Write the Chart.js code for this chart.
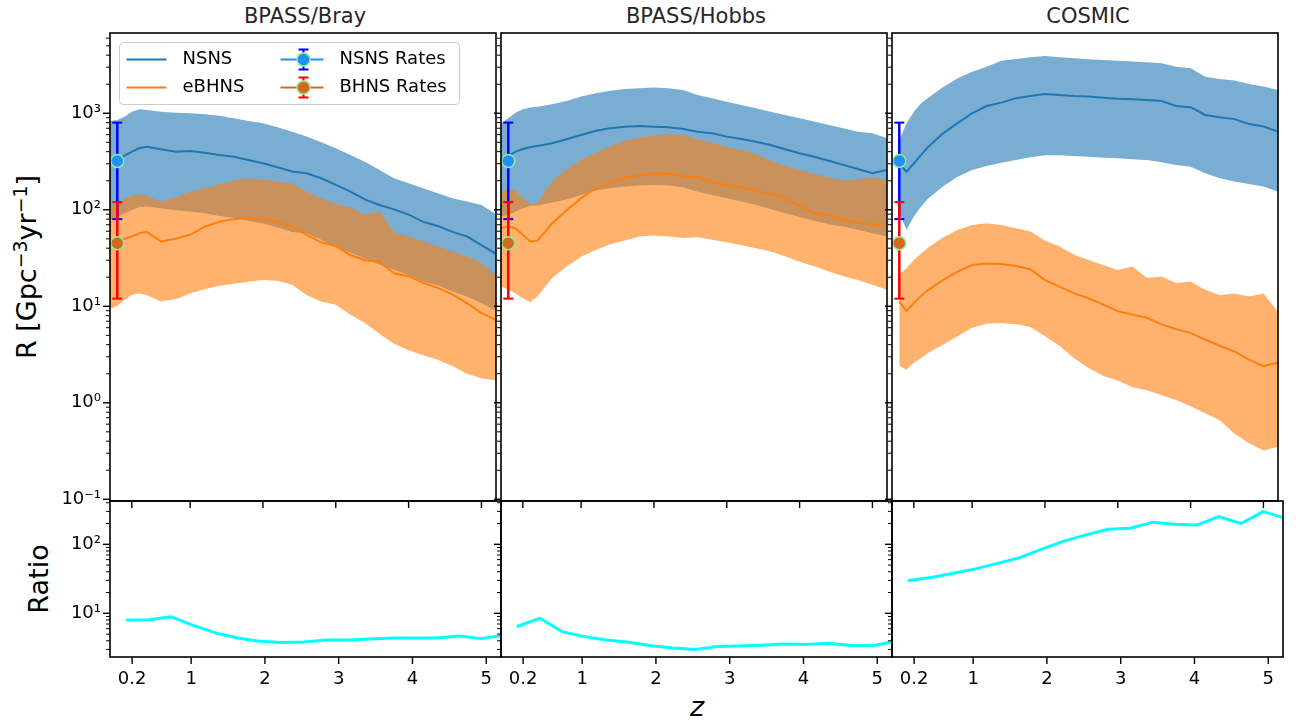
<!DOCTYPE html>
<html><head><meta charset="utf-8">
<script src="https://cdn.jsdelivr.net/npm/chart.js@4.4.0/dist/chart.umd.min.js"></script>
<style>
html,body{margin:0;padding:0;background:#fff}
#fig{position:relative;width:1296px;height:724px;overflow:hidden;background:#fff;font-family:'DejaVu Sans',sans-serif;color:#000}
canvas{position:absolute}
.ttl{position:absolute;top:2px;font-size:21px;line-height:28px;color:#262626;transform:translateX(-50%);white-space:nowrap}
.lab{position:absolute;font-size:27px;line-height:32px;white-space:nowrap;transform:translate(-50%,-50%) rotate(-90deg)}
.lab sup{font-size:70%;line-height:0;vertical-align:0.5em}
.zlab{position:absolute;font-size:27px;line-height:32px;font-style:italic;transform:translate(-50%,-50%)}
</style></head>
<body><div id="fig">
<div class="ttl" style="left:305px">BPASS/Bray</div>
<div class="ttl" style="left:696px">BPASS/Hobbs</div>
<div class="ttl" style="left:1088px">COSMIC</div>
<div class="lab" style="left:27px;top:267px">R [Gpc<sup>−3</sup>yr<sup>−1</sup>]</div>
<div class="lab" style="left:39px;top:579px">Ratio</div>
<div class="zlab" style="left:697px;top:707px">z</div>
</div>
<script>
// ================= DATA =================
const zBPASS  = [-0.1,0,0.1,0.2,0.3,0.4,0.6,0.8,1.0,1.2,1.4,1.6,1.8,2.0,2.2,2.4,2.6,2.8,3.0,3.2,3.4,3.6,3.8,4.0,4.2,4.4,4.6,4.8,5.0,5.2];
const zCOSMIC = [0,0.1,0.2,0.3,0.4,0.6,0.8,1.0,1.2,1.4,1.6,1.8,2.0,2.2,2.4,2.6,2.8,3.0,3.2,3.4,3.6,3.8,4.0,4.2,4.4,4.6,4.8,5.0,5.2];

// BPASS/Bray
const brayNsnsHi  = [830,850,920,1040,1100,1080,1040,1015,1000,975,940,890,830,790,715,645,573,500,434,370,315,258,212,188,167,148,132,122,112,90];
const brayNsnsMed = [300,330,364,400,434,450,423,400,406,390,370,355,328,303,276,249,239,212,181,154,128,112,101,89,75,68,59,53,43,35];
const brayNsnsLo  = [78,85,92,99,106,108,104,99,96,92,86,82,77,72,66,59,57,49,41,36,31,27,24,21,18,16.5,14.3,12.6,10.8,9];
const brayBhnsHi  = [110,117,129,140,146,140,122,135,154,167,184,200,212,204,196,188,154,132,115,106,89,96,59,53,47,42,37,33,28,21];
const brayBhnsMed = [45,47,50,53,57,59,47,50,55,67,75,80,83,80,75,67,55,46,42,34,30,29,22,20.5,17.5,15.5,13.3,10.8,8.5,7.2];
const brayBhnsLo  = [9.3,10.1,11.6,13.1,13.6,13.1,11.2,11.8,13.6,15,16.3,17.1,18,18.7,18.4,16.7,13.1,11.2,10.4,8.2,6.7,5.2,4.1,3.5,3.1,2.8,2.4,2.0,1.8,1.7];

// BPASS/Hobbs
const hobbsNsnsHi  = [790,890,1015,1100,1145,1170,1240,1340,1490,1610,1715,1785,1815,1845,1815,1745,1550,1430,1320,1220,1125,1040,960,890,820,756,700,645,620,550];
const hobbsNsnsMed = [342,361,400,427,444,458,489,538,596,660,700,727,739,727,716,688,645,620,573,542,508,470,424,385,355,322,292,265,239,258];
const hobbsNsnsLo  = [85,89,96,104,110,110,119,128,142,158,167,174,178,181,178,171,154,142,132,122,112,102,92,84,77,71,67,62,57,53];
const hobbsBhnsHi  = [148,164,158,132,115,119,196,263,328,390,458,520,563,586,606,596,538,496,450,417,378,323,285,258,235,217,200,207,217,204];
const hobbsBhnsMed = [64,68,64,55,47,48,72,99,132,167,188,217,226,239,235,224,217,191,181,170,158,146,132,110,92,89,78,74,70,72];
const hobbsBhnsLo  = [16.1,14.8,13.6,12.1,11,12.6,19.5,25.8,32.7,38.3,44,48,53,54,53,51,52,49,46,43,40,37,33,29,26,23,20.5,18.7,16.7,14.8];

// COSMIC
const cosmicNsnsHi  = [528,788,1040,1270,1450,1860,2300,2700,3040,3510,3650,3800,3930,3800,3710,3620,3560,3510,3430,3370,3290,3040,2930,2390,2270,2180,2010,1890,1745];
const cosmicNsnsMed = [300,248,303,370,451,620,790,1000,1190,1290,1430,1510,1585,1550,1510,1490,1450,1415,1400,1375,1340,1190,1155,960,910,870,775,730,645];
const cosmicNsnsLo  = [92,62,85,108,132,174,220,258,285,308,328,350,367,367,361,355,347,341,333,328,311,291,280,239,212,196,185,174,154];
const cosmicBhnsHi  = [21.2,24.8,30.2,35.3,40.7,51.5,61.7,69.6,72.3,69.6,64.4,59.5,48,41.7,34.2,30.2,26.8,23.8,25.8,19.6,20.4,17.4,18.1,14.8,13.1,13.6,12.6,13.6,8.8];
const cosmicBhnsMed = [11.2,8.9,10.8,12.8,14.8,18.7,22.9,26.8,27.8,27.4,26.1,24.2,18.7,16,13.6,12.1,10.4,8.9,8.2,7.6,6.5,5.8,5.3,4.5,3.9,3.4,2.8,2.4,2.6];
const cosmicBhnsLo  = [2.4,2.2,2.6,2.9,3.3,4.0,4.9,6.0,6.6,6.7,6.5,6.1,4.9,3.9,2.9,2.3,1.9,1.7,1.45,1.35,1.2,1.07,0.92,0.78,0.66,0.48,0.38,0.32,0.35];

// Ratio panels
const zRatio      = [0.13,0.43,0.73,1.03,1.33,1.63,1.93,2.23,2.53,2.83,3.13,3.43,3.73,4.03,4.33,4.63,4.93,5.23];
const ratioBray   = [8.0,8.1,8.9,6.7,5.2,4.4,3.95,3.78,3.85,4.1,4.1,4.25,4.4,4.4,4.4,4.7,4.3,4.8];
const ratioHobbs  = [6.5,8.5,5.4,4.6,4.1,3.8,3.4,3.15,3.0,3.3,3.35,3.45,3.6,3.55,3.7,3.45,3.4,3.9];
const ratioCosmic = [30,33,38,44,53,64,85,111,137,165,171,208,195,190,252,200,297,239];

// Observed rates (NSNS, BHNS)
const rateNames = ['NSNS Rates','BHNS Rates'];
const rateZ   = [0, 0];
const rateVal = [320, 45];
const rateLo  = [80, 12];
const rateHi  = [800, 120];

// Series names / ticks
const seriesNames = ['NSNS','eBHNS'];
const panelNames = ['BPASS/Bray','BPASS/Hobbs','COSMIC'];
const xTickValues = [0.2,1,2,3,4,5];
const xTickLabels = ['0.2','1','2','3','4','5'];
const rTickValues = [0.1,1,10,100,1000];
const rTickLabels = ['10⁻¹','10⁰','10¹','10²','10³'];
const ratioTickValues = [10,100];
const ratioTickLabels = ['10¹','10²'];

// ================= STYLE / LAYOUT =================
const C_NSNS = '#1f77b4', C_BHNS = '#ff7f0e';
const F_NSNS = 'rgba(31,119,180,0.6)', F_BHNS = 'rgba(255,127,14,0.6)';
const seriesColors = [C_NSNS, C_BHNS];
const rateColors = ['#1e90ff', '#d2691e'];
const rateBarColors = ['#0000ff', '#ff0000'];
const PANELS = [[110,501],[501,892],[892,1283]];
const TOP_Y = [33,501], BOT_Y = [501,657];

Chart.defaults.font.family = "'DejaVu Sans', sans-serif";
Chart.defaults.color = '#000';

function seg(ctx, x1, y1, x2, y2) { ctx.beginPath(); ctx.moveTo(x1, y1); ctx.lineTo(x2, y2); ctx.stroke(); }

const axesPlugin = {
  id: 'axesPlugin',
  afterDraw(chart) {
    const {ctx, chartArea: a} = chart;
    const xs = chart.scales.x, ys = chart.scales.y;
    ctx.save();
    ctx.strokeStyle = '#000';
    const lo = Math.floor(Math.log10(ys.min)), hi = Math.ceil(Math.log10(ys.max));
    for (let d = lo; d <= hi; d++) {
      for (let m = 1; m < 10; m++) {
        const v = m * Math.pow(10, d);
        if (v < ys.min || v > ys.max) continue;
        const py = ys.getPixelForValue(v);
        const major = m === 1;
        ctx.lineWidth = major ? 1.4 : 1;
        seg(ctx, a.left - (major ? 7 : 4), py, a.left, py);
      }
    }
    ctx.lineWidth = 1.4;
    for (const v of xTickValues) {
      const px = xs.getPixelForValue(v);
      seg(ctx, px, a.bottom, px, a.bottom + 7);
    }
    ctx.lineWidth = 1.6;
    ctx.strokeRect(a.left, a.top, a.right - a.left, a.bottom - a.top);
    ctx.restore();
  }
};

const RATE_IDX = 6;
const ratesPlugin = {
  id: 'ratesPlugin',
  beforeDatasetDraw(chart, args) {
    if (args.index !== RATE_IDX) return;
    const ctx = chart.ctx, xs = chart.scales.x, ys = chart.scales.y;
    ctx.save();
    rateVal.forEach((v, k) => {
      const px = xs.getPixelForValue(rateZ[k]);
      const y1 = ys.getPixelForValue(rateLo[k]), y2 = ys.getPixelForValue(rateHi[k]);
      ctx.strokeStyle = rateBarColors[k];
      ctx.lineWidth = 2.5;
      seg(ctx, px, y1, px, y2);
      ctx.lineWidth = 2;
      seg(ctx, px - 5, y1, px + 5, y1);
      seg(ctx, px - 5, y2, px + 5, y2);
    });
    ctx.restore();
  }
};

function rrect(ctx, x, y, w, h, r) {
  ctx.beginPath();
  ctx.moveTo(x + r, y); ctx.lineTo(x + w - r, y); ctx.arcTo(x + w, y, x + w, y + r, r);
  ctx.lineTo(x + w, y + h - r); ctx.arcTo(x + w, y + h, x + w - r, y + h, r);
  ctx.lineTo(x + r, y + h); ctx.arcTo(x, y + h, x, y + h - r, r);
  ctx.lineTo(x, y + r); ctx.arcTo(x, y, x + r, y, r); ctx.closePath();
}

const legendPlugin = {
  id: 'legendPlugin',
  afterDraw(chart) {
    const {ctx, chartArea: a} = chart;
    const bx = a.left + 9.5, by = a.top + 9.5, bw = 340, bh = 62;
    ctx.save();
    rrect(ctx, bx, by, bw, bh, 4);
    ctx.fillStyle = 'rgba(255,255,255,0.8)'; ctx.fill();
    ctx.strokeStyle = '#cccccc'; ctx.lineWidth = 1; ctx.stroke();
    const rows = [by + 17, by + 45];
    ctx.font = "18px 'DejaVu Sans'"; ctx.textBaseline = 'middle'; ctx.textAlign = 'left';
    seriesNames.forEach((name, k) => {
      ctx.strokeStyle = seriesColors[k]; ctx.lineWidth = 2;
      seg(ctx, bx + 7, rows[k], bx + 47, rows[k]);
      ctx.fillStyle = '#000'; ctx.fillText(name, bx + 63, rows[k]);
    });
    rateNames.forEach((name, k) => {
      const cx = bx + 184, cy = rows[k];
      ctx.strokeStyle = rateColors[k]; ctx.lineWidth = 2;
      seg(ctx, cx - 23, cy, cx + 20, cy);
      ctx.strokeStyle = rateBarColors[k]; ctx.lineWidth = 2;
      seg(ctx, cx, cy - 10, cx, cy + 10);
      seg(ctx, cx - 5, cy - 10, cx + 5, cy - 10);
      seg(ctx, cx - 5, cy + 10, cx + 5, cy + 10);
      ctx.beginPath(); ctx.arc(cx, cy, 6.5, 0, Math.PI * 2);
      ctx.fillStyle = rateColors[k]; ctx.fill();
      ctx.strokeStyle = '#90ee90'; ctx.lineWidth = 1.5; ctx.stroke();
      ctx.fillStyle = '#000'; ctx.fillText(name, bx + 220, cy);
    });
    ctx.restore();
  }
};

function makeCanvas(left, top, w, h) {
  const c = document.createElement('canvas');
  c.width = w; c.height = h;
  c.style.left = left + 'px'; c.style.top = top + 'px';
  c.style.width = w + 'px'; c.style.height = h + 'px';
  document.getElementById('fig').appendChild(c);
  return c;
}

function tickCb(values, labels) {
  return function (value) {
    const i = values.findIndex(v => Math.abs(v - value) <= Math.abs(v) * 1e-6);
    return i >= 0 ? labels[i] : '';
  };
}

function zeroPad(s) { s.paddingTop = 0; s.paddingBottom = 0; s.paddingLeft = 0; s.paddingRight = 0; }

function build(i, kind, datasets, plugins) {
  const [pl, pr] = PANELS[i];
  const [pt, pb] = kind === 'top' ? TOP_Y : BOT_Y;
  const left = i === 0 ? 0 : pl - 10;
  const top = pt - (kind === 'top' ? 13 : 11);
  const xH = kind === 'top' ? 10 : 45;
  const w = pr + 3 - left, h = pb + xH - top;
  const yW = pl - left;
  const yVals = kind === 'top' ? rTickValues : ratioTickValues;
  const yLabs = kind === 'top' ? rTickLabels : ratioTickLabels;
  const canvas = makeCanvas(left, top, w, h);
  return new Chart(canvas, {
    type: 'line',
    data: { datasets },
    options: {
      responsive: false, animation: false, devicePixelRatio: 1,
      layout: { padding: { left: 0, right: 3, top: pt - top, bottom: 0 } },
      plugins: { legend: { display: false }, tooltip: { enabled: false }, title: { display: false } },
      elements: { point: { radius: 0 }, line: { tension: 0 } },
      scales: {
        x: {
          type: 'linear', min: -0.1, max: 5.2,
          afterBuildTicks: s => { s.ticks = xTickValues.map(v => ({ value: v })); },
          afterFit: s => { s.height = xH; zeroPad(s); },
          grid: { display: false, drawTicks: true, tickLength: 7 },
          border: { display: false },
          ticks: { display: kind === 'bottom', autoSkip: false, maxRotation: 0, padding: 5,
                   font: { size: 18 }, color: '#000', callback: tickCb(xTickValues, xTickLabels) }
        },
        y: {
          type: 'logarithmic',
          min: kind === 'top' ? 0.096 : 2.33, max: kind === 'top' ? 6790 : 424,
          afterBuildTicks: s => { s.ticks = yVals.map(v => ({ value: v })); },
          afterFit: s => { s.width = yW; zeroPad(s); },
          grid: { display: false, drawTicks: true, tickLength: 7 },
          border: { display: false },
          ticks: { display: i === 0, padding: 2, font: { size: 18 }, color: '#000', callback: tickCb(yVals, yLabs) }
        }
      }
    },
    plugins: [axesPlugin].concat(plugins || [])
  });
}

const pts = (z, arr) => arr.map((v, k) => ({ x: z[k], y: v }));

function bandSets(z, nLo, nMed, nHi, bLo, bMed, bHi) {
  const none = 'rgba(0,0,0,0)';
  return [
    { data: pts(z, nLo), borderColor: none, borderWidth: 0, pointRadius: 0, fill: false, order: 7 },
    { data: pts(z, nHi), borderColor: none, borderWidth: 0, pointRadius: 0, fill: '-1', backgroundColor: F_NSNS, order: 6 },
    { data: pts(z, nMed), borderColor: C_NSNS, borderWidth: 2, pointRadius: 0, fill: false, order: 5 },
    { data: pts(z, bLo), borderColor: none, borderWidth: 0, pointRadius: 0, fill: false, order: 4 },
    { data: pts(z, bHi), borderColor: none, borderWidth: 0, pointRadius: 0, fill: '-1', backgroundColor: F_BHNS, order: 3 },
    { data: pts(z, bMed), borderColor: C_BHNS, borderWidth: 2, pointRadius: 0, fill: false, order: 2 },
    { data: pts(rateZ, rateVal), showLine: false, fill: false, pointRadius: 6.5, pointHoverRadius: 6.5,
      pointBackgroundColor: rateColors, pointBorderColor: '#90ee90', pointBorderWidth: 1.5, order: 0 }
  ];
}

function ratioSet(vals) {
  return [{ data: pts(zRatio, vals), borderColor: '#00ffff', borderWidth: 3, pointRadius: 0, fill: false,
            borderJoinStyle: 'round', borderCapStyle: 'round' }];
}

// bottom (ratio) panels first so top-panel tick marks sit above them
build(0, 'bottom', ratioSet(ratioBray));
build(1, 'bottom', ratioSet(ratioHobbs));
build(2, 'bottom', ratioSet(ratioCosmic));

build(0, 'top', bandSets(zBPASS, brayNsnsLo, brayNsnsMed, brayNsnsHi, brayBhnsLo, brayBhnsMed, brayBhnsHi), [ratesPlugin, legendPlugin]);
build(1, 'top', bandSets(zBPASS, hobbsNsnsLo, hobbsNsnsMed, hobbsNsnsHi, hobbsBhnsLo, hobbsBhnsMed, hobbsBhnsHi), [ratesPlugin]);
build(2, 'top', bandSets(zCOSMIC, cosmicNsnsLo, cosmicNsnsMed, cosmicNsnsHi, cosmicBhnsLo, cosmicBhnsMed, cosmicBhnsHi), [ratesPlugin]);
</script>
</body></html>
